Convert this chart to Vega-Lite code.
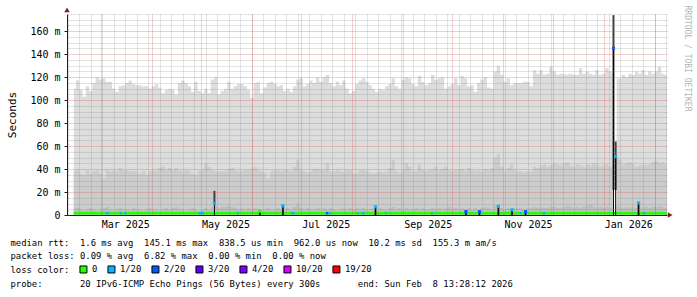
{
"$schema": "https://vega.github.io/schema/vega-lite/v6.json",
"width": 600, "height": 201,
"autosize": {"type": "none"},
"padding": {"left": 67, "top": 14, "right": 30, "bottom": 82},
"background": "white",
"config": {"view": {"stroke": null}, "font": "DejaVu Sans Mono"},
"datasets": {
"smoke": [
{"t":"2025-02-12T16:00:00Z","hi":110,"mid":38,"lo":5,"med":1.6},
{"t":"2025-02-14","hi":117,"mid":39,"lo":6,"med":1.6},
{"t":"2025-02-16","hi":109,"mid":36,"lo":5,"med":1.6},
{"t":"2025-02-18","hi":103,"mid":35,"lo":4,"med":1.6},
{"t":"2025-02-20","hi":112,"mid":39,"lo":5,"med":1.6},
{"t":"2025-02-22","hi":108,"mid":36,"lo":6,"med":1.6},
{"t":"2025-02-24","hi":115,"mid":38,"lo":5,"med":1.6},
{"t":"2025-02-26","hi":120,"mid":39,"lo":4,"med":1.6},
{"t":"2025-02-28","hi":118,"mid":36,"lo":5,"med":1.6},
{"t":"2025-03-02","hi":119,"mid":32,"lo":6,"med":1.6},
{"t":"2025-03-04","hi":116,"mid":39,"lo":7,"med":1.6},
{"t":"2025-03-06","hi":116,"mid":38,"lo":5,"med":1.6},
{"t":"2025-03-08","hi":110,"mid":39,"lo":4,"med":1.6},
{"t":"2025-03-10","hi":107,"mid":38,"lo":5,"med":1.6},
{"t":"2025-03-12","hi":112,"mid":41,"lo":6,"med":1.6},
{"t":"2025-03-14","hi":113,"mid":39,"lo":5,"med":1.6},
{"t":"2025-03-16","hi":115,"mid":39,"lo":5,"med":1.6},
{"t":"2025-03-18","hi":117,"mid":38,"lo":4,"med":1.6},
{"t":"2025-03-20","hi":114,"mid":38,"lo":6,"med":1.6},
{"t":"2025-03-22","hi":113,"mid":38,"lo":5,"med":1.6},
{"t":"2025-03-24","hi":113,"mid":36,"lo":5,"med":1.6},
{"t":"2025-03-26","hi":112,"mid":38,"lo":4,"med":1.6},
{"t":"2025-03-28","hi":112,"mid":35,"lo":5,"med":1.6},
{"t":"2025-03-30","hi":110,"mid":38,"lo":6,"med":1.6},
{"t":"2025-04-01","hi":112,"mid":39,"lo":5,"med":1.6},
{"t":"2025-04-03","hi":114,"mid":38,"lo":5,"med":1.6},
{"t":"2025-04-05","hi":111,"mid":41,"lo":4,"med":1.6},
{"t":"2025-04-07","hi":106,"mid":42,"lo":5,"med":1.6},
{"t":"2025-04-09","hi":109,"mid":39,"lo":6,"med":1.6},
{"t":"2025-04-11","hi":110,"mid":41,"lo":5,"med":1.6},
{"t":"2025-04-13","hi":109,"mid":39,"lo":6,"med":1.6},
{"t":"2025-04-15","hi":105,"mid":41,"lo":7,"med":1.6},
{"t":"2025-04-17","hi":115,"mid":39,"lo":5,"med":1.6},
{"t":"2025-04-19","hi":117,"mid":38,"lo":5,"med":1.6},
{"t":"2025-04-21","hi":115,"mid":39,"lo":4,"med":1.6},
{"t":"2025-04-23","hi":112,"mid":38,"lo":5,"med":1.6},
{"t":"2025-04-25","hi":107,"mid":36,"lo":6,"med":1.6},
{"t":"2025-04-27","hi":116,"mid":35,"lo":5,"med":1.6},
{"t":"2025-04-29","hi":108,"mid":38,"lo":4,"med":1.6},
{"t":"2025-05-01","hi":106,"mid":39,"lo":5,"med":1.6},
{"t":"2025-05-03","hi":110,"mid":45,"lo":6,"med":1.6},
{"t":"2025-05-05","hi":106,"mid":42,"lo":5,"med":1.6},
{"t":"2025-05-07","hi":118,"mid":39,"lo":7,"med":1.6},
{"t":"2025-05-09","hi":120,"mid":38,"lo":8,"med":1.6},
{"t":"2025-05-11","hi":105,"mid":38,"lo":6,"med":1.6},
{"t":"2025-05-13","hi":108,"mid":38,"lo":7,"med":1.6},
{"t":"2025-05-15","hi":110,"mid":38,"lo":7,"med":1.6},
{"t":"2025-05-17","hi":116,"mid":40,"lo":8,"med":1.6},
{"t":"2025-05-19","hi":110,"mid":41,"lo":7,"med":1.6},
{"t":"2025-05-21","hi":112,"mid":39,"lo":6,"med":1.6},
{"t":"2025-05-23","hi":114,"mid":38,"lo":5,"med":1.6},
{"t":"2025-05-25","hi":114,"mid":38,"lo":6,"med":1.6},
{"t":"2025-05-27","hi":112,"mid":39,"lo":5,"med":1.6},
{"t":"2025-05-29","hi":109,"mid":39,"lo":6,"med":1.6},
{"t":"2025-05-31","hi":102,"mid":40,"lo":5,"med":1.6},
{"t":"2025-06-02","hi":115,"mid":42,"lo":6,"med":1.6},
{"t":"2025-06-04","hi":116,"mid":39,"lo":5,"med":1.6},
{"t":"2025-06-06","hi":106,"mid":38,"lo":4,"med":1.6},
{"t":"2025-06-08","hi":111,"mid":37,"lo":5,"med":1.6},
{"t":"2025-06-10","hi":115,"mid":32,"lo":6,"med":1.6},
{"t":"2025-06-12","hi":116,"mid":38,"lo":5,"med":1.6},
{"t":"2025-06-14","hi":114,"mid":39,"lo":5,"med":1.6},
{"t":"2025-06-16","hi":112,"mid":39,"lo":6,"med":1.6},
{"t":"2025-06-18","hi":113,"mid":38,"lo":5,"med":1.6},
{"t":"2025-06-20","hi":108,"mid":39,"lo":5,"med":1.6},
{"t":"2025-06-22","hi":110,"mid":39,"lo":6,"med":1.6},
{"t":"2025-06-24","hi":107,"mid":38,"lo":5,"med":1.6},
{"t":"2025-06-26","hi":112,"mid":42,"lo":7,"med":1.6},
{"t":"2025-06-28","hi":118,"mid":48,"lo":10,"med":1.6},
{"t":"2025-06-30","hi":119,"mid":39,"lo":6,"med":1.6},
{"t":"2025-07-02","hi":112,"mid":38,"lo":5,"med":1.6},
{"t":"2025-07-04","hi":114,"mid":37,"lo":6,"med":1.6},
{"t":"2025-07-06","hi":117,"mid":38,"lo":5,"med":1.6},
{"t":"2025-07-08","hi":115,"mid":40,"lo":5,"med":1.6},
{"t":"2025-07-10","hi":120,"mid":40,"lo":6,"med":1.6},
{"t":"2025-07-12","hi":116,"mid":39,"lo":5,"med":1.6},
{"t":"2025-07-14","hi":120,"mid":39,"lo":6,"med":1.6},
{"t":"2025-07-16","hi":122,"mid":45,"lo":5,"med":1.6},
{"t":"2025-07-18","hi":115,"mid":38,"lo":6,"med":1.6},
{"t":"2025-07-20","hi":112,"mid":38,"lo":5,"med":1.6},
{"t":"2025-07-22","hi":116,"mid":39,"lo":4,"med":1.6},
{"t":"2025-07-24","hi":113,"mid":38,"lo":5,"med":1.6},
{"t":"2025-07-26","hi":117,"mid":37,"lo":6,"med":1.6},
{"t":"2025-07-28","hi":110,"mid":39,"lo":5,"med":1.6},
{"t":"2025-07-30","hi":106,"mid":39,"lo":6,"med":1.6},
{"t":"2025-08-01","hi":108,"mid":36,"lo":5,"med":1.6},
{"t":"2025-08-03","hi":114,"mid":37,"lo":6,"med":1.6},
{"t":"2025-08-05","hi":117,"mid":39,"lo":5,"med":1.6},
{"t":"2025-08-07","hi":119,"mid":39,"lo":6,"med":1.6},
{"t":"2025-08-09","hi":116,"mid":38,"lo":5,"med":1.6},
{"t":"2025-08-11","hi":113,"mid":37,"lo":5,"med":1.6},
{"t":"2025-08-13","hi":110,"mid":36,"lo":6,"med":1.6},
{"t":"2025-08-15","hi":107,"mid":37,"lo":5,"med":1.6},
{"t":"2025-08-17","hi":110,"mid":38,"lo":6,"med":1.6},
{"t":"2025-08-19","hi":109,"mid":37,"lo":5,"med":1.6},
{"t":"2025-08-21","hi":112,"mid":38,"lo":5,"med":1.6},
{"t":"2025-08-23","hi":114,"mid":41,"lo":6,"med":1.6},
{"t":"2025-08-25","hi":119,"mid":48,"lo":7,"med":1.6},
{"t":"2025-08-27","hi":112,"mid":38,"lo":5,"med":1.6},
{"t":"2025-08-29","hi":110,"mid":37,"lo":6,"med":1.6},
{"t":"2025-08-31","hi":118,"mid":39,"lo":5,"med":1.6},
{"t":"2025-09-02","hi":120,"mid":45,"lo":6,"med":1.6},
{"t":"2025-09-04","hi":119,"mid":42,"lo":5,"med":1.6},
{"t":"2025-09-06","hi":114,"mid":38,"lo":5,"med":1.6},
{"t":"2025-09-08","hi":112,"mid":38,"lo":6,"med":1.6},
{"t":"2025-09-10","hi":121,"mid":44,"lo":5,"med":1.6},
{"t":"2025-09-12","hi":116,"mid":39,"lo":6,"med":1.6},
{"t":"2025-09-14","hi":113,"mid":38,"lo":5,"med":1.6},
{"t":"2025-09-16","hi":115,"mid":39,"lo":5,"med":1.6},
{"t":"2025-09-18","hi":122,"mid":40,"lo":6,"med":1.6},
{"t":"2025-09-20","hi":118,"mid":42,"lo":5,"med":1.6},
{"t":"2025-09-22","hi":119,"mid":39,"lo":6,"med":1.6},
{"t":"2025-09-24","hi":120,"mid":40,"lo":5,"med":1.6},
{"t":"2025-09-26","hi":110,"mid":42,"lo":6,"med":1.6},
{"t":"2025-09-28","hi":112,"mid":39,"lo":7,"med":1.6},
{"t":"2025-09-30","hi":114,"mid":38,"lo":5,"med":1.6},
{"t":"2025-10-02","hi":119,"mid":39,"lo":6,"med":1.6},
{"t":"2025-10-04","hi":113,"mid":39,"lo":5,"med":1.6},
{"t":"2025-10-06","hi":121,"mid":40,"lo":6,"med":1.6},
{"t":"2025-10-08","hi":119,"mid":38,"lo":5,"med":1.6},
{"t":"2025-10-10","hi":112,"mid":41,"lo":6,"med":1.6},
{"t":"2025-10-12","hi":113,"mid":39,"lo":5,"med":1.6},
{"t":"2025-10-14","hi":107,"mid":38,"lo":6,"med":1.6},
{"t":"2025-10-16","hi":115,"mid":39,"lo":5,"med":1.6},
{"t":"2025-10-18","hi":118,"mid":38,"lo":6,"med":1.6},
{"t":"2025-10-20","hi":120,"mid":40,"lo":7,"med":1.6},
{"t":"2025-10-22","hi":111,"mid":39,"lo":6,"med":1.6},
{"t":"2025-10-24","hi":110,"mid":41,"lo":5,"med":1.6},
{"t":"2025-10-26","hi":125,"mid":50,"lo":8,"med":1.6},
{"t":"2025-10-28","hi":130,"mid":53,"lo":9,"med":1.6},
{"t":"2025-10-30","hi":122,"mid":42,"lo":6,"med":1.6},
{"t":"2025-11-01","hi":116,"mid":38,"lo":5,"med":1.6},
{"t":"2025-11-03","hi":119,"mid":41,"lo":6,"med":1.6},
{"t":"2025-11-05","hi":113,"mid":44,"lo":5,"med":1.6},
{"t":"2025-11-07","hi":115,"mid":39,"lo":6,"med":1.6},
{"t":"2025-11-09","hi":115,"mid":38,"lo":6,"med":1.6},
{"t":"2025-11-11","hi":115,"mid":38,"lo":6,"med":1.6},
{"t":"2025-11-13","hi":116,"mid":37,"lo":5,"med":1.6},
{"t":"2025-11-15","hi":116,"mid":38,"lo":6,"med":1.6},
{"t":"2025-11-17","hi":112,"mid":38,"lo":6,"med":1.6},
{"t":"2025-11-19","hi":126,"mid":42,"lo":7,"med":1.6},
{"t":"2025-11-21","hi":123,"mid":41,"lo":6,"med":1.6},
{"t":"2025-11-23","hi":126,"mid":43,"lo":7,"med":1.6},
{"t":"2025-11-25","hi":122,"mid":44,"lo":6,"med":1.6},
{"t":"2025-11-27","hi":123,"mid":42,"lo":6,"med":1.6},
{"t":"2025-11-29","hi":129,"mid":43,"lo":7,"med":1.6},
{"t":"2025-12-01","hi":125,"mid":45,"lo":7,"med":1.6},
{"t":"2025-12-03","hi":122,"mid":44,"lo":6,"med":1.6},
{"t":"2025-12-05","hi":123,"mid":43,"lo":6,"med":1.6},
{"t":"2025-12-07","hi":123,"mid":45,"lo":7,"med":1.6},
{"t":"2025-12-09","hi":122,"mid":46,"lo":8,"med":1.6},
{"t":"2025-12-11","hi":123,"mid":43,"lo":7,"med":1.6},
{"t":"2025-12-13","hi":122,"mid":42,"lo":6,"med":1.6},
{"t":"2025-12-15","hi":122,"mid":44,"lo":7,"med":1.6},
{"t":"2025-12-17","hi":128,"mid":43,"lo":6,"med":1.6},
{"t":"2025-12-19","hi":123,"mid":42,"lo":7,"med":1.6},
{"t":"2025-12-21","hi":125,"mid":44,"lo":8,"med":1.6},
{"t":"2025-12-23","hi":123,"mid":43,"lo":9,"med":1.6},
{"t":"2025-12-25","hi":122,"mid":45,"lo":7,"med":1.6},
{"t":"2025-12-27","hi":126,"mid":44,"lo":6,"med":1.6},
{"t":"2025-12-29","hi":122,"mid":42,"lo":7,"med":1.6},
{"t":"2025-12-31","hi":123,"mid":43,"lo":6,"med":1.6},
{"t":"2026-01-02","hi":128,"mid":44,"lo":7,"med":1.6},
{"t":"2026-01-04","hi":125,"mid":42,"lo":6,"med":1.6},
{"t":"2026-01-06","hi":123,"mid":43,"lo":7,"med":1.6},
{"t":"2026-01-06T13:00:00Z","hi":0,"mid":0,"lo":0,"med":1.6},
{"t":"2026-01-08T22:00:00Z","hi":119,"mid":50,"lo":8,"med":1.6},
{"t":"2026-01-10","hi":119,"mid":48,"lo":7,"med":1.6},
{"t":"2026-01-12","hi":122,"mid":44,"lo":6,"med":1.6},
{"t":"2026-01-14","hi":120,"mid":45,"lo":7,"med":1.6},
{"t":"2026-01-16","hi":123,"mid":46,"lo":6,"med":1.6},
{"t":"2026-01-18","hi":122,"mid":44,"lo":7,"med":1.6},
{"t":"2026-01-20","hi":125,"mid":42,"lo":6,"med":1.6},
{"t":"2026-01-22","hi":123,"mid":43,"lo":7,"med":1.6},
{"t":"2026-01-24","hi":126,"mid":44,"lo":6,"med":1.6},
{"t":"2026-01-26","hi":122,"mid":43,"lo":7,"med":1.6},
{"t":"2026-01-28","hi":125,"mid":44,"lo":6,"med":1.6},
{"t":"2026-01-30","hi":123,"mid":46,"lo":7,"med":1.6},
{"t":"2026-02-01","hi":125,"mid":47,"lo":7,"med":1.6},
{"t":"2026-02-03","hi":129,"mid":45,"lo":8,"med":1.6},
{"t":"2026-02-05","hi":123,"mid":46,"lo":7,"med":1.6},
{"t":"2026-02-07","hi":122,"mid":44,"lo":6,"med":1.6},
{"t":"2026-02-08T12:00:00Z","hi":122,"mid":44,"lo":6,"med":1.6}
],
"spikes": [
{"t":"2025-05-09T06:00:00Z","bot":10,"top":21,"med":10.2,"loss":"1/20"},
{"t":"2025-06-05T22:00:00Z","bot":0,"top":3.5,"med":3.4,"loss":"0"},
{"t":"2025-06-19T22:00:00Z","bot":0,"top":9,"med":8,"loss":"1/20"},
{"t":"2025-08-15T06:00:00Z","bot":0,"top":7.5,"med":7.2,"loss":"1/20"},
{"t":"2025-10-09T06:00:00Z","bot":0,"top":3.5,"med":3,"loss":"2/20"},
{"t":"2025-10-17T12:00:00Z","bot":0,"top":3.5,"med":2.9,"loss":"2/20"},
{"t":"2025-10-29T00:00:00Z","bot":0,"top":8.5,"med":7.5,"loss":"1/20"},
{"t":"2025-11-06T06:00:00Z","bot":0,"top":5,"med":4.5,"loss":"1/20"},
{"t":"2025-11-14T12:00:00Z","bot":0,"top":3.8,"med":2.9,"loss":"2/20"},
{"t":"2026-01-07T00:00:00Z","bot":22,"top":174,"med":145.1,"loss":"2/20"},
{"t":"2026-01-08T08:00:00Z","bot":22,"top":64,"med":51,"loss":"1/20"},
{"t":"2026-01-22T06:00:00Z","bot":0,"top":11,"med":10.5,"loss":"1/20"}
],
"loss": [
{"t":"2025-03-04T06:00:00Z","med":1.6,"loss":"1/20","seg":1},{"t":"2025-03-05T23:00:00Z","med":1.6,"loss":"1/20","seg":1},
{"t":"2025-03-12T16:00:00Z","med":1.6,"loss":"1/20","seg":2},{"t":"2025-03-14T00:00:00Z","med":1.6,"loss":"1/20","seg":2},
{"t":"2025-03-15T10:00:00Z","med":1.6,"loss":"1/20","seg":3},{"t":"2025-03-16T15:00:00Z","med":1.6,"loss":"1/20","seg":3},
{"t":"2025-04-29T16:00:00Z","med":1.6,"loss":"1/20","seg":4},{"t":"2025-05-02T18:00:00Z","med":1.6,"loss":"1/20","seg":4},
{"t":"2025-05-23T00:00:00Z","med":1.6,"loss":"1/20","seg":5},{"t":"2025-05-24T00:00:00Z","med":1.6,"loss":"1/20","seg":5},
{"t":"2025-06-25T00:00:00Z","med":1.6,"loss":"1/20","seg":6},{"t":"2025-06-27T00:00:00Z","med":1.6,"loss":"1/20","seg":6},
{"t":"2025-07-16T00:00:00Z","med":1.6,"loss":"2/20","seg":7},{"t":"2025-07-17T12:00:00Z","med":1.6,"loss":"2/20","seg":7},
{"t":"2025-07-17T12:00:00Z","med":1.6,"loss":"1/20","seg":8},{"t":"2025-07-19T00:00:00Z","med":1.6,"loss":"1/20","seg":8},
{"t":"2025-08-04T00:00:00Z","med":1.6,"loss":"1/20","seg":9},{"t":"2025-08-05T00:00:00Z","med":1.6,"loss":"1/20","seg":9},
{"t":"2025-08-07T00:00:00Z","med":1.6,"loss":"1/20","seg":10},{"t":"2025-08-08T12:00:00Z","med":1.6,"loss":"1/20","seg":10},
{"t":"2025-08-21T00:00:00Z","med":1.6,"loss":"1/20","seg":11},{"t":"2025-08-22T00:00:00Z","med":1.6,"loss":"1/20","seg":11},
{"t":"2025-09-18T00:00:00Z","med":1.6,"loss":"1/20","seg":12},{"t":"2025-09-19T00:00:00Z","med":1.6,"loss":"1/20","seg":12},
{"t":"2025-11-11T00:00:00Z","med":1.6,"loss":"1/20","seg":13},{"t":"2025-11-12T00:00:00Z","med":1.6,"loss":"1/20","seg":13},
{"t":"2025-11-25T00:00:00Z","med":1.6,"loss":"1/20","seg":14},{"t":"2025-11-26T12:00:00Z","med":1.6,"loss":"1/20","seg":14},
{"t":"2026-01-25T00:00:00Z","med":1.6,"loss":"1/20","seg":15},{"t":"2026-01-26T12:00:00Z","med":1.6,"loss":"1/20","seg":15}
]
},
"layer": [
{
"data": {"name": "smoke"},
"mark": {"type": "area", "interpolate": "step-after", "color": "#dddddd"},
"encoding": {
"x": {"field": "t", "type": "temporal",
"scale": {"type": "utc", "domain": [{"year":2025,"month":2,"date":8,"hours":13,"minutes":28,"seconds":12,"utc":true},{"year":2026,"month":2,"date":8,"hours":13,"minutes":28,"seconds":12,"utc":true}]},
"axis": {"values": [{"year":2025,"month":3,"date":16,"utc":true},{"year":2025,"month":5,"date":16,"utc":true},{"year":2025,"month":7,"date":16,"utc":true},{"year":2025,"month":9,"date":16,"utc":true},{"year":2025,"month":11,"date":16,"utc":true},{"year":2026,"month":1,"date":16,"utc":true}],
"labelExpr": "utcFormat(datum.value, '%b %Y')", "grid": false, "ticks": false, "domain": true, "domainColor": "#1f1f1f", "domainWidth": 1,
"labelFont": "DejaVu Sans Mono", "labelFontSize": 10, "labelColor": "#000000", "labelPadding": 4, "labelFlush": false, "labelOverlap": false,
"title": ["median rtt:\u00a0\u00a01.6 ms avg\u00a0\u00a0145.1 ms max\u00a0\u00a0838.5 us min\u00a0\u00a0962.0 us now\u00a0\u00a010.2 ms sd\u00a0\u00a0155.3 m am/s", "packet loss: 0.09 % avg\u00a0\u00a06.82 % max\u00a0\u00a00.00 % min\u00a0\u00a00.00 % now", "loss color:", "probe:\u00a0\u00a0\u00a0\u00a0\u00a0\u00a0\u00a020 IPv6-ICMP Echo Pings (56 Bytes) every 300s\u00a0\u00a0\u00a0\u00a0\u00a0\u00a0\u00a0end: Sun Feb\u00a0\u00a08 13:28:12 2026"],
"titleX": -57, "titleY": 30, "titleAlign": "left", "titleBaseline": "alphabetic", "titleAngle": 0,
"titleFont": "DejaVu Sans Mono", "titleFontSize": 8.9, "titleFontWeight": "normal", "titleColor": "#000000", "titleLineHeight": 13.75, "zindex": 1}},
"y": {"field": "hi", "type": "quantitative", "scale": {"domain": [0, 175], "nice": false},
"axis": {"values": [0,20,40,60,80,100,120,140,160], "labelExpr": "datum.value == 0 ? '0' : datum.value + ' m'",
"grid": false, "ticks": true, "tickSize": 3, "tickColor": "#1f1f1f", "domain": true, "domainColor": "#1f1f1f",
"labelFont": "DejaVu Sans Mono", "labelFontSize": 10, "labelColor": "#000000", "labelPadding": 4, "labelBaseline": "middle",
"title": "Seconds", "titleFont": "DejaVu Sans Mono", "titleFontSize": 11, "titleFontWeight": "normal", "titleColor": "#000000",
"titleX": -52, "titleBaseline": "alphabetic", "zindex": 1}}
}
},
{
"data": {"name": "smoke"},
"mark": {"type": "area", "interpolate": "step-after", "color": "#cccccc"},
"encoding": {
"x": {"field": "t", "type": "temporal",
"scale": {"type": "utc", "domain": [{"year":2025,"month":2,"date":8,"hours":13,"minutes":28,"seconds":12,"utc":true},{"year":2026,"month":2,"date":8,"hours":13,"minutes":28,"seconds":12,"utc":true}]},
"axis": {"tickCount": {"interval": "week", "step": 1}, "grid": true, "gridColor": "rgba(128,128,128,0.45)", "gridDash": [1,1], "gridWidth": 1,
"labels": false, "ticks": false, "domain": false, "title": null, "zindex": 1}},
"y": {"field": "mid", "type": "quantitative", "scale": {"domain": [0, 175], "nice": false},
"axis": {"values": [5,10,15,25,30,35,45,50,55,65,70,75,85,90,95,105,110,115,125,130,135,145,150,155,165,170,175],
"grid": true, "gridColor": "rgba(128,128,128,0.45)", "gridDash": [1,1], "gridWidth": 1, "labels": false, "ticks": false, "domain": false, "title": null, "zindex": 1}}
}
},
{
"data": {"name": "smoke"},
"mark": {"type": "area", "interpolate": "step-after", "color": "#bdbdbd"},
"encoding": {
"x": {"field": "t", "type": "temporal",
"scale": {"type": "utc", "domain": [{"year":2025,"month":2,"date":8,"hours":13,"minutes":28,"seconds":12,"utc":true},{"year":2026,"month":2,"date":8,"hours":13,"minutes":28,"seconds":12,"utc":true}]},
"axis": {"tickCount": {"interval": "month", "step": 1}, "grid": true, "gridColor": "rgba(222,79,79,0.55)", "gridDash": [1,1], "gridWidth": 1,
"labels": false, "ticks": false, "domain": false, "title": null, "zindex": 1}},
"y": {"field": "lo", "type": "quantitative", "scale": {"domain": [0, 175], "nice": false},
"axis": {"values": [20,40,60,80,100,120,140,160],
"grid": true, "gridColor": "rgba(222,79,79,0.55)", "gridDash": [1,1], "gridWidth": 1, "labels": false, "ticks": false, "domain": false, "title": null, "zindex": 1}}
}
},
{
"data": {"name": "smoke"},
"mark": {"type": "line", "interpolate": "step-after", "color": "#26ff00", "strokeWidth": 2.5},
"encoding": {
"x": {"field": "t", "type": "temporal",
"scale": {"type": "utc", "domain": [{"year":2025,"month":2,"date":8,"hours":13,"minutes":28,"seconds":12,"utc":true},{"year":2026,"month":2,"date":8,"hours":13,"minutes":28,"seconds":12,"utc":true}]},
"axis": null},
"y": {"field": "med", "type": "quantitative", "scale": {"domain": [0, 175], "nice": false},
"axis": {"orient": "right", "title": "RRDTOOL / TOBI OETIKER", "titleAngle": 90, "titleX": 19, "titleY": -9, "titleAlign": "left", "titleBaseline": "middle",
"titleFont": "DejaVu Sans Mono", "titleFontSize": 8, "titleFontWeight": "normal", "titleColor": "#b4b4b4",
"labels": false, "ticks": false, "domain": false, "grid": false}}
}
},
{
"data": {"name": "loss"},
"mark": {"type": "line", "strokeWidth": 2.5, "strokeCap": "butt"},
"encoding": {
"x": {"field": "t", "type": "temporal",
"scale": {"type": "utc", "domain": [{"year":2025,"month":2,"date":8,"hours":13,"minutes":28,"seconds":12,"utc":true},{"year":2026,"month":2,"date":8,"hours":13,"minutes":28,"seconds":12,"utc":true}]},
"axis": null},
"y": {"field": "med", "type": "quantitative", "scale": {"domain": [0, 175], "nice": false}, "axis": null},
"detail": {"field": "seg", "type": "nominal"},
"color": {"field": "loss", "type": "nominal",
"scale": {"domain": ["0","1/20","2/20","3/20","4/20","10/20","19/20"], "range": ["#26ff00","#00b8ff","#0059ff","#5e00ff","#7e00ff","#dd00ff","#ff0000"]},
"legend": null}
}
},
{
"data": {"name": "spikes"},
"mark": {"type": "rule", "color": "#404040", "strokeWidth": 2},
"encoding": {
"x": {"field": "t", "type": "temporal",
"scale": {"type": "utc", "domain": [{"year":2025,"month":2,"date":8,"hours":13,"minutes":28,"seconds":12,"utc":true},{"year":2026,"month":2,"date":8,"hours":13,"minutes":28,"seconds":12,"utc":true}]},
"axis": null},
"y": {"field": "bot", "type": "quantitative", "scale": {"domain": [0, 175], "nice": false}, "axis": null},
"y2": {"field": "top"}
}
},
{
"data": {"name": "spikes"},
"mark": {"type": "rule", "color": "#000000", "strokeWidth": 1},
"encoding": {
"x": {"field": "t", "type": "temporal",
"scale": {"type": "utc", "domain": [{"year":2025,"month":2,"date":8,"hours":13,"minutes":28,"seconds":12,"utc":true},{"year":2026,"month":2,"date":8,"hours":13,"minutes":28,"seconds":12,"utc":true}]},
"axis": null},
"y": {"field": "med", "type": "quantitative", "scale": {"domain": [0, 175], "nice": false}, "axis": null},
"y2": {"datum": 0}
}
},
{
"data": {"name": "spikes"},
"mark": {"type": "point", "shape": "square", "filled": true, "size": 10, "opacity": 1},
"encoding": {
"x": {"field": "t", "type": "temporal",
"scale": {"type": "utc", "domain": [{"year":2025,"month":2,"date":8,"hours":13,"minutes":28,"seconds":12,"utc":true},{"year":2026,"month":2,"date":8,"hours":13,"minutes":28,"seconds":12,"utc":true}]},
"axis": null},
"y": {"field": "med", "type": "quantitative", "scale": {"domain": [0, 175], "nice": false}, "axis": null},
"color": {"field": "loss", "type": "nominal",
"scale": {"domain": ["0","1/20","2/20","3/20","4/20","10/20","19/20"], "range": ["#26ff00","#00b8ff","#0059ff","#5e00ff","#7e00ff","#dd00ff","#ff0000"]},
"legend": {"orient": "none", "legendX": 12, "legendY": 251, "direction": "horizontal", "title": null,
"symbolType": "square", "symbolSize": 49, "symbolStrokeColor": "#000000", "symbolStrokeWidth": 1, "symbolOpacity": 1,
"labelFont": "DejaVu Sans Mono", "labelFontSize": 8.9, "labelColor": "#000000", "labelOffset": 4, "columnPadding": 7, "padding": 0, "labelLimit": 200,
"encode": {"symbols": {"update": {"stroke": {"value": "#000000"}, "strokeWidth": {"value": 1}, "size": {"value": 49}, "shape": {"value": "square"}, "opacity": {"value": 1}}}}}}
}
},
{
"data": {"values": [{"a": 1}]},
"mark": {"type": "point", "shape": "triangle-up", "filled": true, "size": 30, "color": "#801f1f", "opacity": 1},
"encoding": {
"x": {"datum": {"year":2025,"month":2,"date":8,"hours":13,"minutes":28,"seconds":12,"utc":true}, "type": "temporal",
"scale": {"type": "utc", "domain": [{"year":2025,"month":2,"date":8,"hours":13,"minutes":28,"seconds":12,"utc":true},{"year":2026,"month":2,"date":8,"hours":13,"minutes":28,"seconds":12,"utc":true}]},
"axis": null},
"y": {"datum": 178.5, "type": "quantitative", "scale": {"domain": [0, 175], "nice": false}, "axis": null}
}
},
{
"data": {"values": [{"a": 1}]},
"mark": {"type": "point", "shape": "triangle-right", "filled": true, "size": 30, "color": "#801f1f", "opacity": 1},
"encoding": {
"x": {"datum": {"year":2026,"month":2,"date":10,"hours":12,"utc":true}, "type": "temporal",
"scale": {"type": "utc", "domain": [{"year":2025,"month":2,"date":8,"hours":13,"minutes":28,"seconds":12,"utc":true},{"year":2026,"month":2,"date":8,"hours":13,"minutes":28,"seconds":12,"utc":true}]},
"axis": null},
"y": {"datum": 0, "type": "quantitative", "scale": {"domain": [0, 175], "nice": false}, "axis": null}
}
}
],
"resolve": {"axis": {"x": "independent", "y": "independent"}, "legend": {"color": "independent"}}
}
